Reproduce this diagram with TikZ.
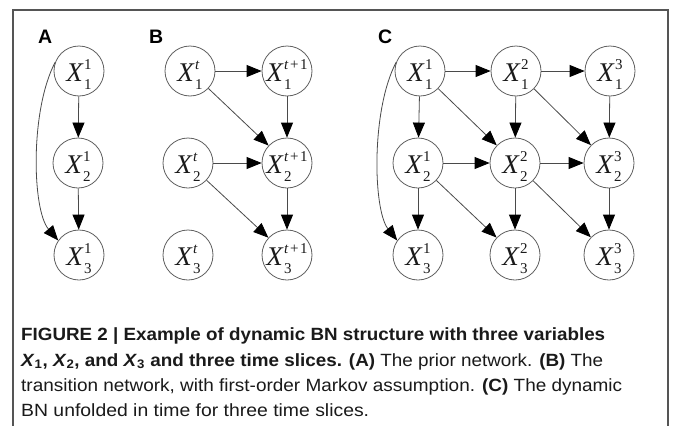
\documentclass[tikz,border=0pt]{standalone}
\usepackage{graphicx}
\usepackage{fontspec}
\setmainfont{Liberation Sans}
\newfontfamily\nodefont{Liberation Serif}
\newfontfamily\lblfont{Liberation Sans}
\usetikzlibrary{arrows.meta}
\definecolor{framecol}{HTML}{555555}
\definecolor{edgecol}{HTML}{4A4A4A}
\definecolor{circcol}{HTML}{606060}
\definecolor{txtcol}{HTML}{1A1A1A}
\newcommand\xv[2]{{\nodefont\fontsize{27}{27}\selectfont\textit{X}\kern0.5pt\raisebox{-8pt}{\fontsize{15}{20}\selectfont\begin{tabular}[b]{@{}l@{}}#1\\#2\end{tabular}}}}
\newcommand\tpo{\textit{t}\kern1.5pt+\kern1.5pt1}
\newcommand\cx[1]{\textbf{\textit{X}}\textsubscript{\textbf{#1}}}
\newcommand\fitw[2]{\setbox0=\hbox{#2}\pgfmathsetmacro\fwr{#1/\the\wd0}\scalebox{\fwr}[1]{\box0}}
\tikzset{
  bn/.style={circle,draw=circcol,line width=0.8pt,minimum size=50pt,inner sep=0pt},
  lbl/.style={inner sep=0pt,yshift=-4pt,text=txtcol},
  edge/.style={draw=edgecol,line width=0.8pt,-{Triangle[length=15pt,width=12pt,color=black]}},
  panel/.style={anchor=base west,inner sep=0pt,font=\lblfont\fontsize{19.5}{19.5}\selectfont\bfseries},
  capline/.style={anchor=base west,inner sep=0pt,text=txtcol,font=\fontsize{17.7}{17.7}\selectfont}
}
\begin{document}
\begin{tikzpicture}[x=1pt,y=-1pt]
\useasboundingbox (0,0) rectangle (673,426);
\fill[white] (0,0) rectangle (673,426);
\draw[framecol,line width=1.5pt] (13,426) -- (13,10) -- (668,10) -- (668,426);

% panel labels
\node[panel] (lA) at (38,43) {A};
\node[panel] (lB) at (149,43) {B};
\node[panel] (lC) at (378,43) {C};

% panel A
\node[bn,label={[lbl]center:{\xv{1}{1}}}] (a1) at (79,71) {};
\node[bn,label={[lbl]center:{\xv{1}{2}}}] (a2) at (78,163) {};
\node[bn,label={[lbl]center:{\xv{1}{3}}}] (a3) at (79,255) {};
\draw[edge] (a1) -- (a2);
\draw[edge] (a2) -- (a3);
\draw[edge] (a1.160) .. controls (30,110) and (32,210) .. (a3.145);

% panel B
\node[bn,label={[lbl]center:{\xv{\textit{t}}{1}}}] (b11) at (190,71) {};
\node[bn,label={[lbl]center:{\xv{\tpo}{1}}}] (b12) at (287,71) {};
\node[bn,label={[lbl]center:{\xv{\textit{t}}{2}}}] (b21) at (188,163) {};
\node[bn,label={[lbl]center:{\xv{\tpo}{2}}}] (b22) at (287,163) {};
\node[bn,label={[lbl]center:{\xv{\textit{t}}{3}}}] (b31) at (188,255) {};
\node[bn,label={[lbl]center:{\xv{\tpo}{3}}}] (b32) at (287,255) {};
\draw[edge] (b11) -- (b12);
\draw[edge] (b11) -- (b22);
\draw[edge] (b12) -- (b22);
\draw[edge] (b21) -- (b22);
\draw[edge] (b21) -- (b32);
\draw[edge] (b22) -- (b32);

% panel C
\node[bn,label={[lbl]center:{\xv{1}{1}}}] (c11) at (420,71) {};
\node[bn,label={[lbl]center:{\xv{2}{1}}}] (c12) at (516,71) {};
\node[bn,label={[lbl]center:{\xv{3}{1}}}] (c13) at (610,71) {};
\node[bn,label={[lbl]center:{\xv{1}{2}}}] (c21) at (418,163) {};
\node[bn,label={[lbl]center:{\xv{2}{2}}}] (c22) at (515,163) {};
\node[bn,label={[lbl]center:{\xv{3}{2}}}] (c23) at (609,163) {};
\node[bn,label={[lbl]center:{\xv{1}{3}}}] (c31) at (418,255) {};
\node[bn,label={[lbl]center:{\xv{2}{3}}}] (c32) at (515,255) {};
\node[bn,label={[lbl]center:{\xv{3}{3}}}] (c33) at (609,255) {};
\draw[edge] (c11) -- (c12);
\draw[edge] (c12) -- (c13);
\draw[edge] (c11) -- (c21);
\draw[edge] (c11) -- (c22);
\draw[edge] (c12) -- (c22);
\draw[edge] (c12) -- (c23);
\draw[edge] (c13) -- (c23);
\draw[edge] (c21) -- (c22);
\draw[edge] (c22) -- (c23);
\draw[edge] (c21) -- (c31);
\draw[edge] (c21) -- (c32);
\draw[edge] (c22) -- (c32);
\draw[edge] (c22) -- (c33);
\draw[edge] (c23) -- (c33);
\draw[edge] (c11.160) .. controls (371,110) and (373,210) .. (c31.145);

% caption
\node[capline] (cap1) at (21,340) {\fitw{584}{\textbf{FIGURE 2 | Example of dynamic BN structure with three variables}}};
\node[capline] (cap2) at (21,366) {\fitw{582}{\cx{1}\textbf{, }\cx{2}\textbf{, and }\cx{3}\textbf{ and three time slices. (A)} The prior network. \textbf{(B)} The}};
\node[capline] (cap3) at (21,391) {\fitw{601}{transition network, with first-order Markov assumption. \textbf{(C)} The dynamic}};
\node[capline] (cap4) at (21,416) {\fitw{348}{BN unfolded in time for three time slices.}};
\end{tikzpicture}
\end{document}
